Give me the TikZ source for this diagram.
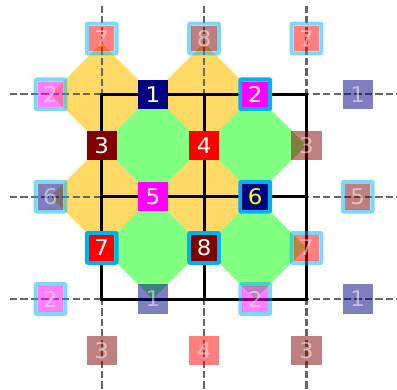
\documentclass[tikz,border=0pt]{standalone}
\usepackage{fontspec}
\newfontfamily\dejavu[FakeStretch=1.06]{DejaVu Sans}
\definecolor{ylw}{RGB}{255,217,102}
\definecolor{grn}{RGB}{128,255,128}
\definecolor{bord}{RGB}{0,176,240}
\definecolor{navyc}{RGB}{0,0,128}
\definecolor{maroonc}{RGB}{128,0,0}
\definecolor{redc}{RGB}{255,0,0}
\definecolor{magc}{RGB}{255,0,255}
\definecolor{yelc}{RGB}{255,255,0}
\definecolor{gridgray}{RGB}{102,102,102}
\tikzset{
  lbl/.style={font=\dejavu\fontsize{12}{12}\selectfont, inner sep=0pt},
  guide/.style={draw=gridgray, line width=1.3pt, dash pattern=on 4pt off 1.8pt},
  cellgrid/.style={draw=black, line width=1.6pt},
}
\newcommand{\plainbox}[6][1]{%
  \fill[#4, opacity=#1, shift={(#3)}] (-0.295,-0.288) rectangle (0.295,0.288);
  \node[lbl, text=#5, opacity=#1] (#2) at (#3) {#6};}
\newcommand{\rimbox}[6][1]{%
  \fill[bord, opacity=#1, even odd rule, shift={(#3)}] [rounded corners=1.5pt] (-0.33,-0.33) rectangle (0.33,0.33) [sharp corners] (-0.25,-0.25) rectangle (0.25,0.25);
  \fill[#4, opacity=#1, shift={(#3)}] (-0.25,-0.25) rectangle (0.25,0.25);
  \node[lbl, text=#5, opacity=#1] (#2) at (#3) {#6};}
\begin{document}
\begin{tikzpicture}
\useasboundingbox (-1.986,-1.756) rectangle (5.768,5.842);
% diamonds
\foreach \c in {(0,4),(2,4),(0,2),(2,2)}
  \fill[ylw] \c +(1,0) -- +(0,1) -- +(-1,0) -- +(0,-1) -- cycle;
\foreach \c in {(1,3),(3,3),(1,1),(3,1)}
  \fill[grn] \c +(1,0) -- +(0,1) -- +(-1,0) -- +(0,-1) -- cycle;
% dashed guides
\foreach \x in {0,2,4}
  \draw[guide] (\x,5.73) -- (\x,-1.9);
\foreach \y in {0,2,4}
  \draw[guide] (-1.79,\y) -- (5.9,\y);
% grid
\draw[cellgrid] (0,0) rectangle (4,4);
\draw[cellgrid] (2,0) -- (2,4);
\draw[cellgrid] (0,2) -- (4,2);
% real boxes
\plainbox{b1}{1,4}{navyc}{white}{1}
\rimbox{b2}{3,4}{magc}{white}{2}
\plainbox{b3}{0,3}{maroonc}{white}{3}
\plainbox{b4}{2,3}{redc}{white}{4}
\plainbox{b5}{1,2}{magc}{white}{5}
\rimbox{b6}{3,2}{navyc}{yelc}{6}
\rimbox{b7}{0,1}{redc}{white}{7}
\rimbox{b8}{2,1}{maroonc}{white}{8}
% ghost boxes
\plainbox[0.5]{g1}{4,3}{maroonc}{white}{3}
\rimbox[0.5]{g2}{4,1}{redc}{white}{7}
\plainbox[0.5]{g3}{1,0}{navyc}{white}{1}
\rimbox[0.5]{g4}{3,0}{magc}{white}{2}
\rimbox[0.5]{g5}{-1,4}{magc}{white}{2}
\rimbox[0.5]{g6}{-1,2}{navyc}{white}{6}
\rimbox[0.5]{g7}{-1,0}{magc}{white}{2}
\plainbox[0.5]{g8}{5,4}{navyc}{white}{1}
\rimbox[0.5]{g9}{5,2}{maroonc}{white}{5}
\plainbox[0.5]{g10}{5,0}{navyc}{white}{1}
\rimbox[0.5]{g11}{0,5.09}{redc}{white}{7}
\rimbox[0.5]{g12}{2,5.09}{maroonc}{white}{8}
\rimbox[0.5]{g13}{4,5.09}{redc}{white}{7}
\plainbox[0.5]{g14}{0,-1}{maroonc}{white}{3}
\plainbox[0.5]{g15}{2,-1}{redc}{white}{4}
\plainbox[0.5]{g16}{4,-1}{maroonc}{white}{3}
\end{tikzpicture}
\end{document}
